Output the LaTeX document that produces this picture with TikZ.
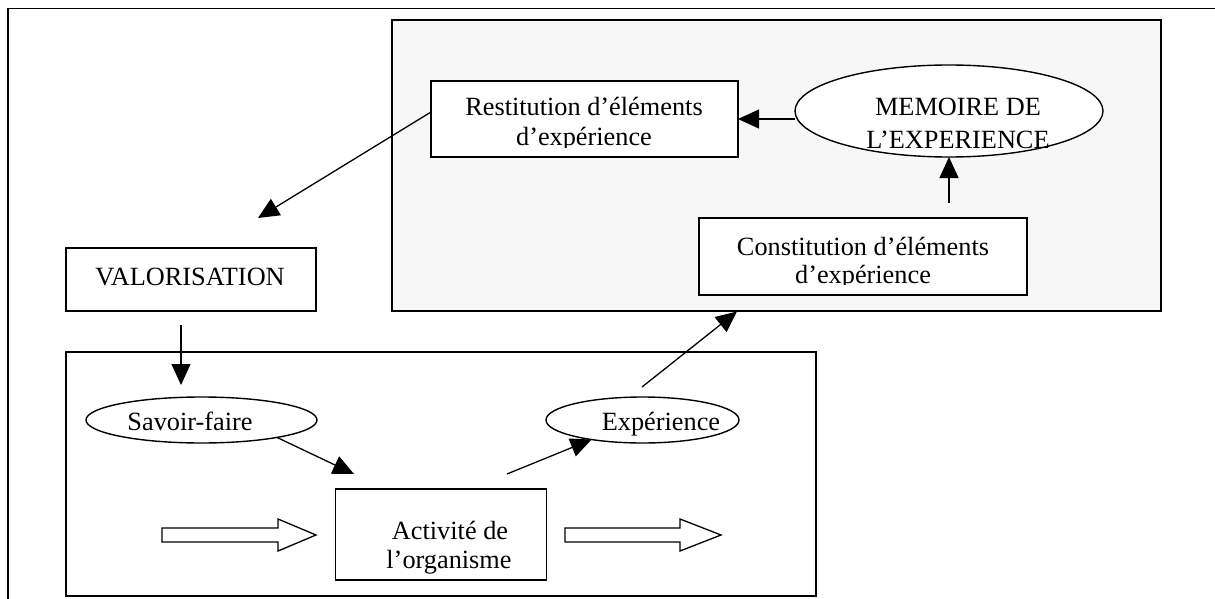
\documentclass[tikz,border=0pt]{standalone}
\usepackage{fontspec}
\setmainfont{Liberation Serif}
\usetikzlibrary{arrows.meta,shapes.geometric,calc}
\begin{document}
\begin{tikzpicture}[x=1pt,y=-1pt,
  framepen/.style={line width=1.8pt, draw=black},
  shapebox/.style={draw=black, line width=1.4pt, fill=white, inner sep=0pt, outer sep=0pt},
  rectbox/.style={shapebox, rectangle},
  ovalbox/.style={shapebox, ellipse},
  label text/.style={inner sep=0pt, outer sep=0pt, anchor=base, font=\fontsize{26.3}{30}\selectfont},
  link/.style={draw=black, line width=1.3pt, -{Triangle[length=21pt,width=19pt]}},
  hollow/.style={draw=black, line width=1.3pt, fill=white, line join=miter}
]
\useasboundingbox (0,0) rectangle (1215,599);

% open outer frame (top and left edges only)
\draw[framepen] (8,599) -- (8,8.5) -- (1215,8.5);

% shaded region holding the experience memory
\node[rectbox, fill={rgb,255:red,247;green,247;blue,247}, minimum width=769pt, minimum height=291pt] (memzone) at (776.5,165.5) {};
% region of the organisation's activity
\node[rectbox, minimum width=750pt, minimum height=244pt] (orgzone) at (441,474) {};

% boxes and ovals
\node[rectbox, minimum width=307pt, minimum height=76pt] (rest) at (584.5,119) {};
\node[ovalbox, minimum width=308pt, minimum height=92pt] (mem) at (949,111) {};
\node[rectbox, minimum width=328pt, minimum height=77pt] (cons) at (863,256.5) {};
\node[rectbox, minimum width=250pt, minimum height=63pt] (valo) at (191,279.5) {};
\node[ovalbox, minimum width=231pt, minimum height=46pt] (savoir) at (201.5,420) {};
\node[ovalbox, minimum width=193pt, minimum height=46pt] (expe) at (642.5,420) {};
\node[rectbox, minimum width=211pt, minimum height=91pt] (act) at (441,534.5) {};

% texts
\node[label text] (rest1) at (584,116) {Restitution d’éléments};
\begin{scope}
  \clip (rest.north west) rectangle (738,147.5);
  \node[label text] (rest2) at (584,146) {d’expérience};
\end{scope}
\node[label text] (mem1) at (958,116) {MEMOIRE DE};
\node[label text] (mem2) at (958,148) {L’EXPERIENCE};
\node[label text] (cons1) at (863,255) {Constitution d’éléments};
\begin{scope}
  \clip (cons.north west) rectangle (1027,284.5);
  \node[label text] (cons2) at (863,283) {d’expérience};
\end{scope}
\node[label text] (valo1) at (190,285) {VALORISATION};
\node[label text] (savoir1) at (190,430) {Savoir-faire};
\node[label text] (expe1) at (661,430) {Expérience};
\node[label text] (act1) at (450,539) {Activité de};
\node[label text] (act2) at (449,568) {l’organisme};

% free arrow ends
\coordinate (valoIn) at (258,218);
\coordinate (valoOutA) at (181,325);
\coordinate (valoOutB) at (181,385);
\coordinate (actIn) at (354,474);
\coordinate (actOut) at (507,474);
\coordinate (expeOut) at (642,387);
\coordinate (memzoneIn) at (737,311.5);
\coordinate (consOut) at (949,203);

% connectors
\draw[link] ([yshift=7pt]rest.west) -- (valoIn);
\draw[link] (valoOutA) -- (valoOutB);
\draw[link] (savoir.-13) -- (actIn);
\draw[link] (actOut) -- (expe.201);
\draw[link] (expeOut) -- (memzoneIn);
\draw[link] (consOut) -- (mem.south);
\draw[link] (rest.east -| mem.west) -- (rest.east);

% hollow flow arrows through the activity
\draw[hollow] (162,528) -- (278,528) -- (278,519) -- (316,535) -- (278,551) -- (278,542) -- (162,542) -- cycle;
\draw[hollow] (565,528) -- (680,528) -- (680,519) -- (721,535) -- (680,551) -- (680,542) -- (565,542) -- cycle;
\end{tikzpicture}
\end{document}
